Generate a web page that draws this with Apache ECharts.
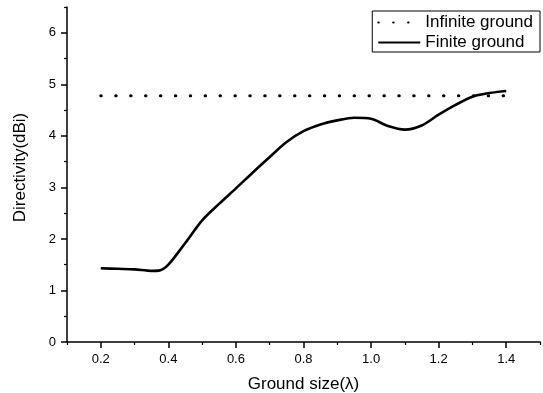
<!DOCTYPE html>
<html>
<head>
<meta charset="utf-8">
<script src="https://cdn.jsdelivr.net/npm/echarts@6/dist/echarts.min.js"></script>
<style>
  html, body { margin: 0; padding: 0; background: #fff; }
  #chart { width: 543px; height: 393px; }
</style>
</head>
<body>
<div id="chart"></div>
<script>
// ground size (wavelengths)
const groundSize = [0.2, 0.25, 0.3, 0.35, 0.375, 0.4, 0.45, 0.5, 0.55, 0.6, 0.65, 0.7, 0.75,
  0.8, 0.85, 0.9, 0.95, 1.0, 1.05, 1.1, 1.15, 1.2, 1.25, 1.3, 1.35, 1.4]
const finiteGround = [1.43, 1.42, 1.41, 1.38, 1.39, 1.50, 1.92, 2.36, 2.68, 2.98, 3.29, 3.59, 3.88,
  4.09, 4.22, 4.30, 4.35, 4.33, 4.19, 4.12, 4.20, 4.41, 4.60, 4.76, 4.83, 4.87]

const infiniteSize = [0.2, 1.4]
const infiniteGround = [4.78, 4.78]

// ticks
const xMajor = [0.2, 0.4, 0.6, 0.8, 1.0, 1.2, 1.4]
const xMinor = [0.1, 0.3, 0.5, 0.7, 0.9, 1.1, 1.3, 1.5]
const yMajor = [0, 1, 2, 3, 4, 5, 6]
const yMinor = [0.5, 1.5, 2.5, 3.5, 4.5, 5.5, 6.5]

const font = 'Liberation Sans, Arial, sans-serif'

let chart = echarts.init(document.getElementById('chart'))

let option = {
    animation: false,
    textStyle: { fontFamily: font, color: '#000' },
    legend: {
        orient: 'vertical',
        right: 3,
        top: 11,
        itemWidth: 42,
        itemHeight: 14,
        itemGap: 3,
        padding: [3, 7, 1, 5],
        borderColor: '#000',
        borderWidth: 1,
        // hide the symbol drawn on top of the line sample
        itemStyle: { color: 'rgba(0,0,0,0)', borderWidth: 0 },
        textStyle: { fontFamily: font, fontSize: 17, color: '#000' },
        data: ['Infinite ground', 'Finite ground'],
    },
    grid: {
        left: 67,
        right: 3,
        top: 7,
        bottom: 51,
        outerBoundsMode: 'none',
    },
    xAxis: [
        {
            type: 'value',
            min: 0.1,
            max: 1.5,
            name: 'Ground size(λ)',
            nameLocation: 'middle',
            nameGap: 34,
            nameTextStyle: { fontFamily: font, fontSize: 17, color: '#000' },
            axisLine: { onZero: false, lineStyle: { color: '#000', width: 1.5 } },
            axisTick: { customValues: xMajor, length: 6, lineStyle: { color: '#000', width: 1.5 } },
            axisLabel: {
                customValues: xMajor,
                margin: 11,
                fontSize: 13,
                color: '#000',
                formatter: v => v.toFixed(1),
            },
            splitLine: { show: false },
        },
        {
            type: 'value',
            position: 'bottom',
            min: 0.1,
            max: 1.5,
            axisLine: { show: false },
            axisTick: { customValues: xMinor, length: 3, lineStyle: { color: '#000', width: 1.2 } },
            axisLabel: { show: false },
            splitLine: { show: false },
        },
    ],
    yAxis: [
        {
            type: 'value',
            min: 0,
            max: 6.5,
            name: 'Directivity(dBi)',
            nameLocation: 'middle',
            nameGap: 38,
            nameTextStyle: { fontFamily: font, fontSize: 17, color: '#000', padding: [0, 0, 0, 14] },
            axisLine: { onZero: false, lineStyle: { color: '#000', width: 1.5 } },
            axisTick: { customValues: yMajor, length: 6, lineStyle: { color: '#000', width: 1.5 } },
            axisLabel: { customValues: yMajor, margin: 11, fontSize: 13, color: '#000' },
            splitLine: { show: false },
        },
        {
            type: 'value',
            position: 'left',
            min: 0,
            max: 6.5,
            axisLine: { show: false },
            axisTick: { customValues: yMinor, length: 3, lineStyle: { color: '#000', width: 1.2 } },
            axisLabel: { show: false },
            splitLine: { show: false },
        },
    ],
    series: [
        {
            name: 'Infinite ground',
            type: 'line',
            data: infiniteSize.map((x, i) => [x, infiniteGround[i]]),
            symbol: 'none',
            lineStyle: { color: '#000', width: 3, type: [0.5, 14.4], cap: 'round' },
            itemStyle: { color: '#000' },
        },
        {
            name: 'Finite ground',
            type: 'line',
            data: groundSize.map((x, i) => [x, finiteGround[i]]),
            symbol: 'none',
            smooth: 0.3,
            lineStyle: { color: '#000', width: 2.6 },
            itemStyle: { color: '#000' },
        },
    ],
}

chart.setOption(option)
window.addEventListener('resize', () => {
    chart.resize()
})
</script>
</body>
</html>
